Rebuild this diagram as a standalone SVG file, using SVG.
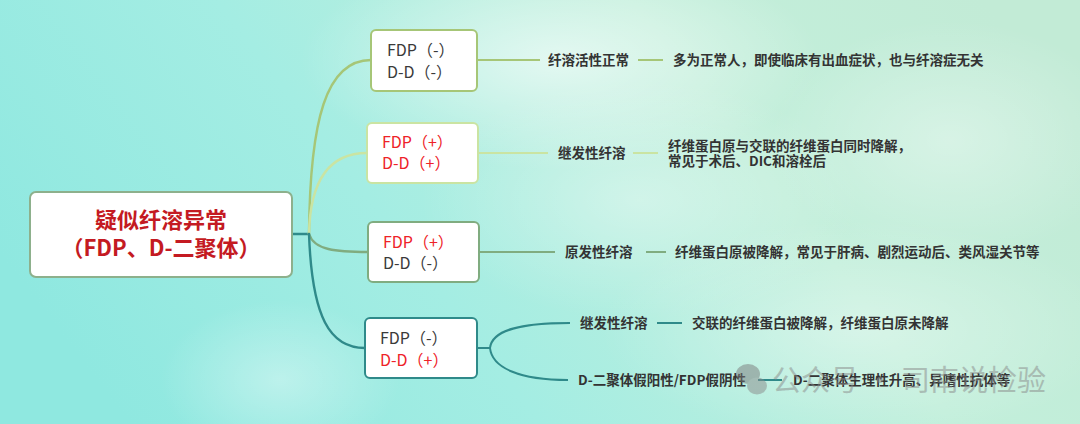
<svg xmlns="http://www.w3.org/2000/svg" width="1080" height="424" viewBox="0 0 1080 424">
<defs>
<linearGradient id="bg" x1="0" y1="0.6" x2="1" y2="0.3">
<stop offset="0" stop-color="#8fe8e0"/>
<stop offset="0.35" stop-color="#a4ede3"/>
<stop offset="0.7" stop-color="#c2efdb"/>
<stop offset="1" stop-color="#c2ebd6"/>
</linearGradient>
<radialGradient id="cloud" cx="0.5" cy="0.5" r="0.5">
<stop offset="0" stop-color="#ffffff" stop-opacity="0.6"/>
<stop offset="1" stop-color="#ffffff" stop-opacity="0"/>
</radialGradient>
<radialGradient id="cloud2" cx="0.5" cy="0.5" r="0.5">
<stop offset="0" stop-color="#ffffff" stop-opacity="0.35"/>
<stop offset="1" stop-color="#ffffff" stop-opacity="0"/>
</radialGradient>
<style>
.box{fill:#ffffff;stroke-width:2}
.root{fill:#ffffff;stroke:#8db08c;stroke-width:2}
.rt{font-family:"Noto Sans CJK SC","Noto Sans",sans-serif;font-size:22px;font-weight:bold;fill:#c41a22;text-anchor:middle}
.bt{font-family:"Noto Sans CJK SC","Noto Sans",sans-serif;font-size:16px;fill:#3a3a3a}
.red{fill:#ee2228}
.lt{font-family:"Noto Sans CJK SC","Noto Sans",sans-serif;font-size:13.5px;font-weight:bold;fill:#333333}
.c{fill:none;stroke-width:2.4;stroke-linecap:round}
.s{fill:none;stroke-width:2}
.g1{stroke:#a6c677}
.g2{stroke:#cae4a2}
.g3{stroke:#80ac80}
.g4{stroke:#2f8a8a}
.wm{font-family:"Noto Sans CJK SC","Noto Sans",sans-serif;font-size:29px;fill:#8a8a8a}
</style>
</defs>
<rect x="0" y="0" width="1080" height="424" fill="url(#bg)"/>
<ellipse cx="560" cy="60" rx="260" ry="110" fill="url(#cloud)"/>
<ellipse cx="640" cy="200" rx="220" ry="120" fill="url(#cloud2)"/>
<ellipse cx="950" cy="140" rx="180" ry="120" fill="url(#cloud2)"/>
<ellipse cx="860" cy="330" rx="260" ry="110" fill="url(#cloud2)"/>
<ellipse cx="280" cy="380" rx="120" ry="80" fill="url(#cloud2)"/>

<g id="connectors">
<path class="c g4" d="M292,234 L309,234"/>
<path class="c g1" d="M309,234 C310,120 326,60 371,60"/>
<path class="c g2" d="M309,234 C310,185 326,153 367,153"/>
<path class="c g3" d="M309,234 C314,250 336,252 368,252"/>
<path class="c g4" d="M309,234 C312,318 330,348 365,348"/>
<path class="s g1" d="M477,60 L540,60"/>
<path class="s g1" d="M638,60 L663,60"/>
<path class="s g2" d="M478,153 L548,153"/>
<path class="s g2" d="M633,153 L658,153"/>
<path class="s g3" d="M479,252 L555,252"/>
<path class="s g3" d="M646,252 L666,252"/>
<path class="s g4" d="M477,348 L490,348"/>
<path class="s g4" d="M490,348 C492,330 520,323 570,323"/>
<path class="s g4" d="M490,348 C492,368 520,380 568,380"/>
<path class="s g4" d="M657,323 L682,323"/>
<path class="s g4" d="M758,380 L782,380"/>
</g>

<g id="root">
<rect class="root" x="30" y="192" width="262" height="85" rx="6"/>
<text class="rt" x="161" y="228">疑似纤溶异常</text>
<text class="rt" x="161" y="256">（FDP、D-二聚体）</text>
</g>

<g id="n1">
<rect class="box g1" x="371" y="30" width="106" height="61" rx="5"/>
<text class="bt" x="387" y="56">FDP（-）</text>
<text class="bt" x="387" y="78">D-D（-）</text>
</g>
<g id="n2">
<rect class="box g2" x="367" y="123" width="111" height="60" rx="5"/>
<text class="bt red" x="382" y="148">FDP（+）</text>
<text class="bt red" x="382" y="169">D-D（+）</text>
</g>
<g id="n3">
<rect class="box g3" x="368" y="222" width="111" height="60" rx="5"/>
<text class="bt red" x="383" y="248">FDP（+）</text>
<text class="bt" x="383" y="269">D-D（-）</text>
</g>
<g id="n4">
<rect class="box g4" x="365" y="318" width="112" height="60" rx="5"/>
<text class="bt" x="380" y="344">FDP（-）</text>
<text class="bt red" x="380" y="366">D-D（+）</text>
</g>

<g id="l1">
<text class="lt" x="548" y="65">纤溶活性正常</text>
<text class="lt" x="673" y="65">多为正常人，即使临床有出血症状，也与纤溶症无关</text>
</g>
<g id="l2">
<text class="lt" x="558" y="158">继发性纤溶</text>
<text class="lt" x="668" y="151">纤维蛋白原与交联的纤维蛋白同时降解，</text>
<text class="lt" x="668" y="166">常见于术后、DIC和溶栓后</text>
</g>
<g id="l3">
<text class="lt" x="565" y="257">原发性纤溶</text>
<text class="lt" x="675" y="257">纤维蛋白原被降解，常见于肝病、剧烈运动后、类风湿关节等</text>
</g>
<g id="l4">
<text class="lt" x="580" y="328">继发性纤溶</text>
<text class="lt" x="692" y="328">交联的纤维蛋白被降解，纤维蛋白原未降解</text>
</g>
<g id="l5">
<text class="lt" x="578" y="385">D-二聚体假阳性/FDP假阴性</text>
<text class="lt" x="793" y="385">D-二聚体生理性升高、异嗜性抗体等</text>
</g>

<g id="watermark" opacity="0.5">
<ellipse cx="748" cy="374" rx="12" ry="10" fill="#7a7a7a"/>
<ellipse cx="757" cy="386" rx="10" ry="8.5" fill="#8a8a8a"/>
<text class="wm" x="772" y="391">公众号 · 司南说检验</text>
</g>
</svg>
